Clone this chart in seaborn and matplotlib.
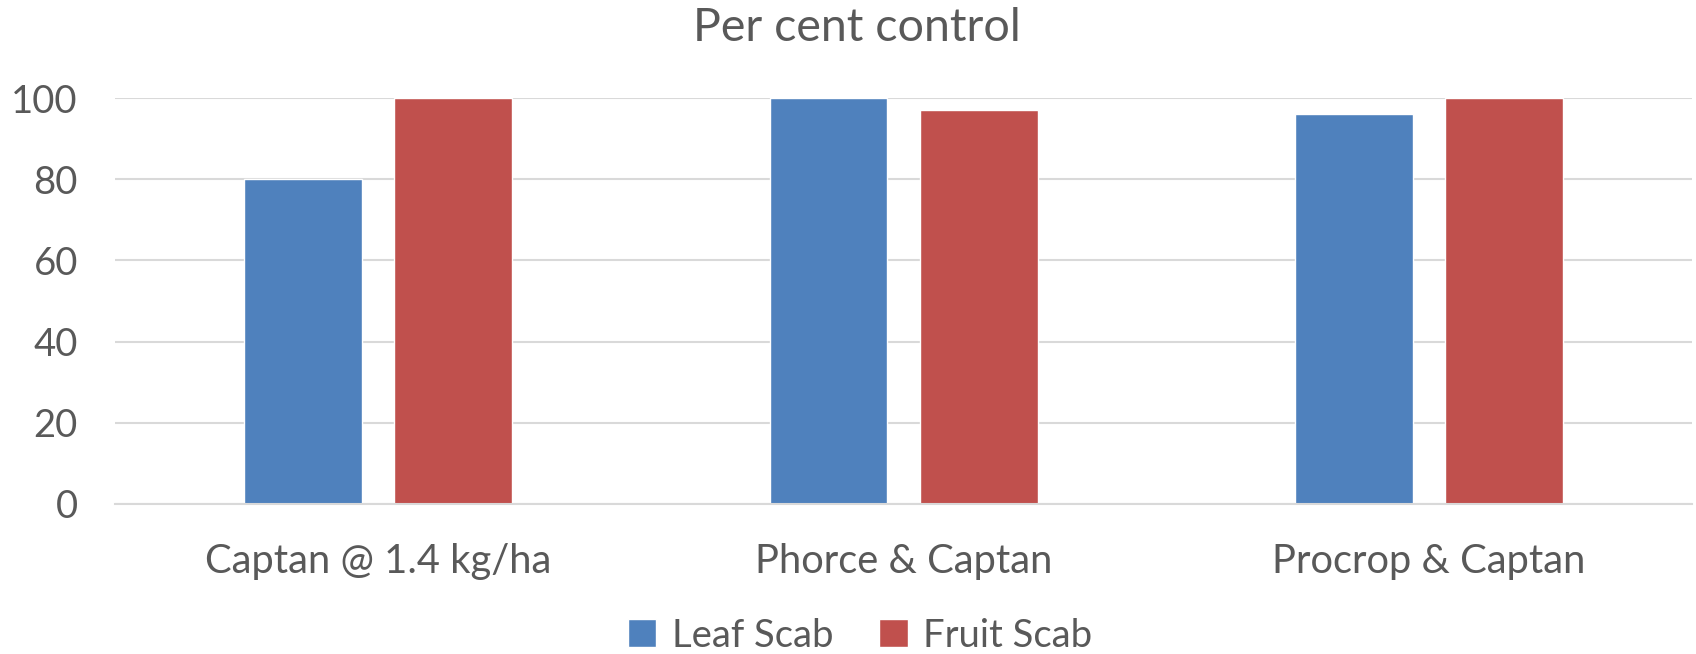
import pandas as pd
import seaborn as sns
import matplotlib.pyplot as plt
from matplotlib.patches import Patch

treatments = ["Captan @ 1.4 kg/ha", "Phorce & Captan", "Procrop & Captan"]
leaf_scab = [80, 100, 96]
fruit_scab = [100, 97, 100]
series = ["Leaf Scab", "Fruit Scab"]
colors = ["#4F81BD", "#C0504D"]
yticks = [0, 20, 40, 60, 80, 100]

df = pd.DataFrame({
    "Treatment": treatments * 2,
    "Series": [series[0]] * 3 + [series[1]] * 3,
    "Value": leaf_scab + fruit_scab,
})

sns.set_style("white")
plt.rcParams["font.family"] = ["Lato", "DejaVu Sans"]
text_col = "#595959"

fig = plt.figure(figsize=(16.96, 6.54), dpi=100)
ax = fig.add_axes([0.068, 0.2294, 0.9296, 0.6206])

sns.barplot(data=df, x="Treatment", y="Value", hue="Series", order=treatments,
            hue_order=series, palette=colors, width=0.572, gap=0.216,
            saturation=1, legend=False, ax=ax)

ax.set_ylim(0, 100)
ax.set_xlim(-0.5, 2.5)
ax.set_yticks(yticks)
ax.yaxis.grid(True, color="#D9D9D9", linewidth=1.5)
ax.set_axisbelow(True)
for s in ["top", "right", "left"]:
    ax.spines[s].set_visible(False)
ax.spines["bottom"].set_color("#D9D9D9")
ax.spines["bottom"].set_linewidth(1.5)
ax.tick_params(axis="y", length=0, labelsize=27.5, labelcolor=text_col, pad=27)
ax.tick_params(axis="x", length=0, labelsize=28.7, labelcolor=text_col, pad=28)
ax.set_xlabel("")
ax.set_ylabel("")

fig.text(0.505, 0.957, "Per cent control", ha="center", va="center",
         fontsize=33.5, color=text_col)

handles = [Patch(facecolor=c, label=l) for c, l in zip(colors, series)]
fig.legend(handles=handles, loc="center", bbox_to_anchor=(0.507, 0.028), ncol=2,
           frameon=False, fontsize=27.5, labelcolor=text_col, handlelength=0.75,
           handleheight=0.75, handletextpad=0.4, columnspacing=1.2)

fig.savefig("out.png", dpi=100)
